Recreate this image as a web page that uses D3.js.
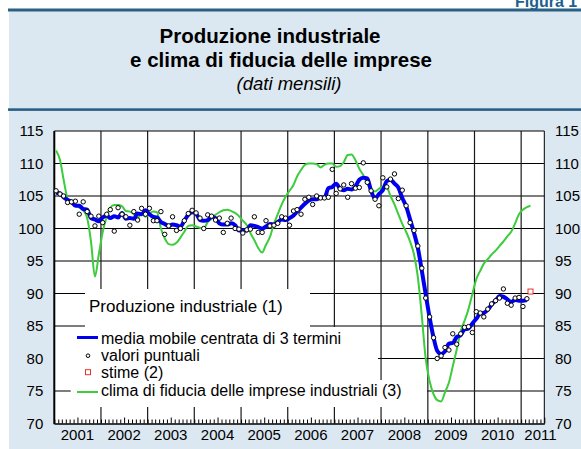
<!DOCTYPE html>
<html>
<head>
<meta charset="utf-8">
<script src="https://cdn.jsdelivr.net/npm/d3@7"></script>
<style>
  body { margin: 0; background: #fff; }
  svg { display: block; font-family: "Liberation Sans", Arial, sans-serif; }
</style>
</head>
<body>
<script>
// produzione industriale, valori puntuali (gen 2001 - feb 2011)
const prodPoints = [
  105.8, 105.3, 105.0, 104.0, 104.1, 104.2, 102.2, 104.1, 102.6, 101.9, 100.4, 101.9,
  100.9, 102.2, 102.9, 99.6, 103.2, 102.2, 101.8, 100.5, 102.6, 101.3, 103.1, 102.2,
  103.1, 101.2, 101.2, 102.6, 99.1, 100.4, 101.8, 99.7, 100.0, 101.2, 102.3, 102.8,
  102.4, 101.6, 100.0, 102.1, 101.9, 101.3, 101.6, 99.4, 100.8, 101.6, 100.0, 99.9,
  99.3, 99.8, 99.9, 101.8, 99.4, 99.4, 101.2, 100.4, 100.5, 100.8, 101.8, 101.6,
  100.5, 102.7, 102.9, 102.2, 104.5, 104.8, 103.7, 105.0, 104.7, 104.7, 104.8, 109.1,
  105.4, 106.1, 106.7, 104.8, 106.9, 106.2, 106.3, 110.1, 107.1, 105.8, 104.5, 103.5,
  107.8, 106.4, 107.6, 108.4, 104.6, 105.9, 103.5, 100.9, 99.7, 97.3, 93.9, 89.3,
  86.4, 83.2, 80.0, 80.4, 81.7, 81.3, 83.8, 82.2, 83.8, 84.8, 84.9, 84.0,
  87.2, 87.0, 86.4, 87.6, 88.4, 88.9, 89.3, 90.7, 88.5, 88.2, 89.3, 89.4,
  88.0, 89.2
];

// media mobile centrata di 3 termini (gen 2001 - feb 2011)
const prodMedia = [
  105.5, 105.4, 104.8, 104.4, 104.1, 103.5, 103.5, 103.0, 102.9, 101.6, 101.4, 101.1,
  101.7, 102.0, 101.6, 101.9, 101.7, 102.4, 101.5, 101.6, 101.5, 102.3, 102.2, 102.8,
  102.2, 101.8, 101.7, 101.0, 100.7, 100.4, 100.6, 100.5, 100.3, 101.2, 102.1, 102.5,
  102.3, 101.3, 101.2, 101.3, 101.8, 101.6, 100.8, 100.6, 100.6, 100.8, 100.5, 99.7,
  99.7, 99.7, 100.5, 100.4, 100.2, 100.0, 100.3, 100.7, 100.6, 101.0, 101.4, 101.3,
  101.6, 102.0, 102.6, 103.2, 103.8, 104.3, 104.5, 104.5, 104.8, 104.7, 106.2, 106.4,
  106.9, 106.1, 105.9, 106.1, 106.0, 106.5, 107.5, 107.8, 107.7, 105.8, 104.6, 105.3,
  105.9, 107.3, 107.5, 106.9, 106.3, 104.7, 103.4, 101.4, 99.3, 97.0, 93.5, 89.9,
  86.3, 83.2, 81.2, 80.7, 81.1, 82.3, 82.4, 83.3, 83.6, 84.5, 84.6, 85.4,
  86.1, 86.9, 87.0, 87.5, 88.3, 88.9, 89.6, 89.5, 89.1, 88.7, 89.0, 88.9,
  88.9, 89.0
];

// stime (mar 2011)
const prodStime = [90.3];

// clima di fiducia delle imprese industriali (gen 2001 - mar 2011)
const fiducia = [
  112.0, 110.5, 107.5, 104.6, 103.9, 103.6, 103.2, 102.8, 101.6, 98.0, 92.6, 96.0,
  99.5, 101.8, 103.2, 103.6, 103.6, 103.4, 102.7, 102.6, 102.2, 101.6, 102.3, 101.8,
  102.3, 102.6, 102.5, 100.0, 98.5, 97.6, 97.5, 97.8, 98.6, 99.5, 100.4, 100.5,
  100.3, 100.1, 100.0, 101.0, 101.5, 102.1, 102.5, 102.8, 102.9, 102.7, 102.4, 101.9,
  101.2, 100.5, 99.3, 98.2, 97.0, 96.3, 97.5, 98.7, 100.7, 102.2, 103.7, 104.9,
  105.8, 106.7, 108.0, 109.0, 109.8, 110.0, 110.0, 109.9, 109.4, 109.8, 110.0, 110.0,
  109.5, 109.6, 110.2, 111.3, 111.4, 110.5, 109.2, 108.2, 106.9, 105.9, 105.7, 106.1,
  106.4, 106.3, 105.0, 103.7, 102.2, 100.7, 99.5, 98.0, 96.0, 92.5, 86.5, 80.0,
  76.5, 74.5, 73.6, 73.4, 74.8, 76.3, 78.8, 81.4, 84.2, 85.8, 87.6, 89.9,
  92.2, 93.5, 94.6, 95.3, 96.0, 96.6, 97.3, 98.0, 98.8, 99.5, 100.8, 102.2,
  102.9, 103.3, 103.5
];

const yTicks = [70, 75, 80, 85, 90, 95, 100, 105, 110, 115];
const yearLabels = [2001, 2002, 2003, 2004, 2005, 2006, 2007, 2008, 2009, 2010, 2011];

const legendTitle = 'Produzione industriale (1)';
const legendItems = [
  'media mobile centrata di 3 termini',
  'valori puntuali',
  'stime (2)',
  'clima di fiducia delle imprese industriali (3)'
];

const W = 581, H = 449;
const plotLeft = 54.3, plotRight = 544.3, plotTop = 131, plotBottom = 423.5;
const lightBlue = '#dce8f1';
const ruleBlue = '#2b5f83';
const green = '#3ccc3c';

const month = i => new Date(2001, i, 15);

const x = d3.scaleTime()
  .domain([new Date(2001, 0, 1), new Date(2011, 6, 1)])
  .range([plotLeft, plotRight]);

const y = d3.scaleLinear()
  .domain([70, 115])
  .range([plotBottom, plotTop]);

const svg = d3.select('body').append('svg')
  .attr('width', W)
  .attr('height', H);

// fondo e intestazione
svg.append('rect')
  .attr('x', 9).attr('y', 10)
  .attr('width', W - 9).attr('height', H - 10)
  .attr('fill', lightBlue);

svg.append('rect')
  .attr('x', 8).attr('y', 8.5)
  .attr('width', W - 8).attr('height', 3)
  .attr('fill', ruleBlue);

svg.append('rect')
  .attr('x', 8).attr('y', 108.3)
  .attr('width', W - 8).attr('height', 2.6)
  .attr('fill', ruleBlue);

svg.append('text')
  .attr('x', 515).attr('y', 7)
  .attr('fill', '#1d5f8e')
  .style('font-weight', 'bold')
  .style('font-size', '16px')
  .text('Figura 1');

const title = svg.append('g')
  .attr('text-anchor', 'middle')
  .attr('fill', '#000');

title.append('text')
  .attr('x', 270).attr('y', 43)
  .style('font-weight', 'bold').style('font-size', '20.5px')
  .text('Produzione industriale');

title.append('text')
  .attr('x', 281).attr('y', 67)
  .style('font-weight', 'bold').style('font-size', '20.5px')
  .text('e clima di fiducia delle imprese');

title.append('text')
  .attr('x', 289).attr('y', 90)
  .style('font-style', 'italic').style('font-size', '18.5px')
  .text('(dati mensili)');

// area del grafico
svg.append('rect')
  .attr('x', plotLeft).attr('y', plotTop)
  .attr('width', plotRight - plotLeft).attr('height', plotBottom - plotTop)
  .attr('fill', '#fff');

// griglia orizzontale
svg.append('g')
  .selectAll('line')
  .data(yTicks.filter(v => v > 70 && v < 115))
  .enter()
  .append('line')
  .attr('x1', plotLeft).attr('x2', plotRight)
  .attr('y1', d => y(d)).attr('y2', d => y(d))
  .attr('stroke', d => d % 10 === 0 ? '#000' : '#7d7d7d')
  .attr('stroke-width', d => d % 10 === 0 ? 1 : 2);

// griglia verticale (anni)
svg.append('g')
  .selectAll('line')
  .data(yearLabels.slice(1).map(yr => new Date(yr, 0, 1)))
  .enter()
  .append('line')
  .attr('x1', d => x(d)).attr('x2', d => x(d))
  .attr('y1', plotTop).attr('y2', plotBottom)
  .attr('stroke', '#1a1a1a')
  .attr('stroke-width', 1.2);

// riquadri bianchi della legenda
const legendBoxes = [
  [85, 289, 310, 327],
  [plotLeft, 327, 378, 380],
  [70.7, 380, 427, 407]
];
svg.append('g')
  .selectAll('rect')
  .data(legendBoxes)
  .enter()
  .append('rect')
  .attr('x', d => d[0]).attr('y', d => d[1])
  .attr('width', d => d[2] - d[0]).attr('height', d => d[3] - d[1])
  .attr('fill', '#fff');

// tacche mensili
const xAxis = d3.axisBottom(x)
  .ticks(d3.timeMonth.every(1))
  .tickSize(-4)
  .tickSizeOuter(0)
  .tickFormat('');

const gx = svg.append('g')
  .attr('transform', `translate(0, ${plotBottom})`)
  .call(xAxis);
gx.select('.domain').attr('stroke', '#000').attr('stroke-width', 1.6);
gx.selectAll('.tick line')
  .attr('stroke', '#000')
  .attr('y2', d => d.getMonth() === 6 ? -6 : -4);

// cornice
svg.append('line')
  .attr('x1', plotLeft).attr('x2', plotRight).attr('y1', plotTop).attr('y2', plotTop)
  .attr('stroke', '#000').attr('stroke-width', 1);
svg.append('line')
  .attr('x1', plotRight).attr('x2', plotRight).attr('y1', plotTop).attr('y2', plotBottom)
  .attr('stroke', '#000').attr('stroke-width', 1);
svg.append('line')
  .attr('x1', plotLeft).attr('x2', plotLeft).attr('y1', plotTop).attr('y2', plotBottom + 0.8)
  .attr('stroke', '#000').attr('stroke-width', 2);

// etichette asse y (sinistra e destra)
const yLeft = d3.axisLeft(y).tickValues(yTicks).tickSize(0).tickPadding(11);
const gyl = svg.append('g').attr('transform', `translate(${plotLeft}, 0)`).call(yLeft);
const yRight = d3.axisRight(y).tickValues(yTicks).tickSize(0).tickPadding(10.7);
const gyr = svg.append('g').attr('transform', `translate(${plotRight}, 0)`).call(yRight);
[gyl, gyr].forEach(g => {
  g.select('.domain').remove();
  g.selectAll('text')
    .attr('fill', '#000')
    .style('font-size', '15px')
    .style('font-family', '"Liberation Sans", Arial, sans-serif');
});

// etichette anni
svg.append('g')
  .selectAll('text')
  .data(yearLabels)
  .enter()
  .append('text')
  .attr('x', d => d < 2011 ? x(new Date(d, 6, 1)) : x(new Date(d, 5, 1)))
  .attr('y', 440)
  .attr('text-anchor', 'middle')
  .style('font-size', '15px')
  .text(d => d);

// serie
const line = d3.line()
  .x((d, i) => x(month(i)))
  .y(d => y(d))
  .curve(d3.curveMonotoneX);

svg.append('path')
  .datum(fiducia)
  .attr('d', line)
  .attr('fill', 'none')
  .attr('stroke', green)
  .attr('stroke-width', 2);

svg.append('path')
  .datum(prodMedia)
  .attr('d', line)
  .attr('fill', 'none')
  .attr('stroke', '#0000f0')
  .attr('stroke-width', 4)
  .attr('stroke-linejoin', 'round');

svg.append('g')
  .selectAll('circle')
  .data(prodPoints)
  .enter()
  .append('circle')
  .attr('cx', (d, i) => x(month(i)))
  .attr('cy', d => y(d))
  .attr('r', 2.2)
  .attr('fill', '#fff')
  .attr('stroke', '#000')
  .attr('stroke-width', 1);

svg.append('g')
  .selectAll('rect')
  .data(prodStime)
  .enter()
  .append('rect')
  .attr('x', (d, i) => x(month(prodPoints.length + i)) - 2.5)
  .attr('y', d => y(d) - 2.5)
  .attr('width', 5).attr('height', 5)
  .attr('fill', '#fff')
  .attr('stroke', '#e8322d')
  .attr('stroke-width', 1);

// legenda
svg.append('text')
  .attr('x', 89).attr('y', 312)
  .style('font-size', '17px')
  .text(legendTitle);

const itemY = [344, 361, 378, 396];
svg.append('g')
  .selectAll('text')
  .data(legendItems)
  .enter()
  .append('text')
  .attr('x', 101)
  .attr('y', (d, i) => itemY[i])
  .style('font-size', '16px')
  .text(d => d);

svg.append('line')
  .attr('x1', 77).attr('x2', 98).attr('y1', itemY[0] - 6.5).attr('y2', itemY[0] - 6.5)
  .attr('stroke', '#0000f0').attr('stroke-width', 3);
svg.append('circle')
  .attr('cx', 88).attr('cy', itemY[1] - 5.3).attr('r', 1.8)
  .attr('fill', '#fff').attr('stroke', '#000').attr('stroke-width', 1);
svg.append('rect')
  .attr('x', 85.5).attr('y', itemY[2] - 8.3).attr('width', 5).attr('height', 5)
  .attr('fill', '#fff').attr('stroke', '#e8322d').attr('stroke-width', 1);
svg.append('line')
  .attr('x1', 77).attr('x2', 98).attr('y1', itemY[3] - 4).attr('y2', itemY[3] - 4)
  .attr('stroke', green).attr('stroke-width', 2);
</script>
</body>
</html>
